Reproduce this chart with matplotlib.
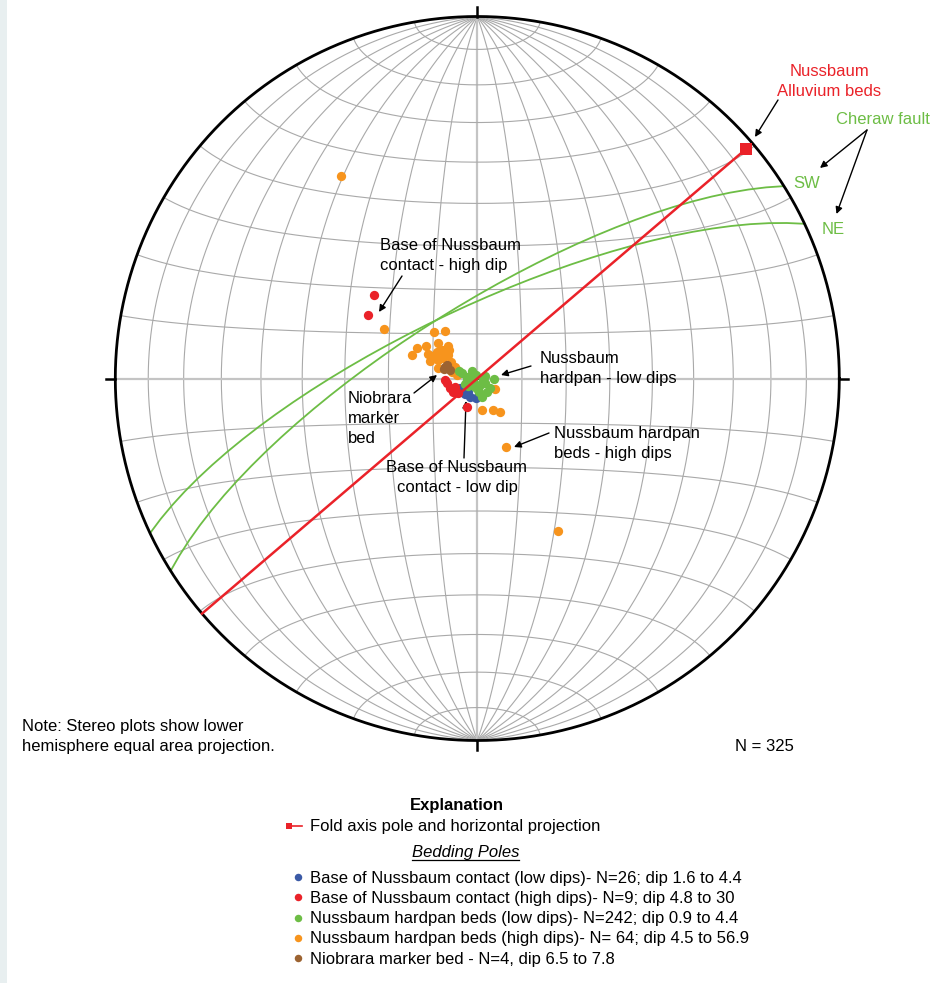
import numpy as np
import matplotlib
matplotlib.use("Agg")
import matplotlib.pyplot as plt
from matplotlib.transforms import Affine2D
from matplotlib.patches import Rectangle

plt.rcParams["font.family"] = ["Liberation Sans", "DejaVu Sans"]
plt.rcParams["font.size"] = 12

# ---------------------------------------------------------------------------
# Bedding attitudes (dip direction, dip) in degrees
# ---------------------------------------------------------------------------
base_low_dipdir = [47, 37, 22, 5, 35, 61]
base_low_dip = [4.3, 4.4, 4.4, 4.4, 3.7, 4.4]

base_high_dipdir = [129, 120, 81, 70, 61, 70, 20, 87, 53]
base_high_dip = [30.0, 28.5, 6.9, 6.5, 6.1, 5.3, 6.9, 7.3, 5.4]

hardpan_low_dipdir = [108, 100, 68, 66, 16, 337, 302, 272, 324, 346, 94, 160,
                      356, 307, 114, 145, 51, 275, 36, 353, 82, 252]
hardpan_low_dip = [3.7, 2.4, 1.5, 3.0, 1.9, 1.6, 2.0, 3.7, 3.6, 4.2, 1.6, 0.9,
                   2.6, 3.5, 4.4, 2.0, 2.7, 1.3, 1.3, 3.0, 2.3, 1.8]

hardpan_high_dipdir = [146, 118, 337, 332, 137, 146, 117, 132, 138, 110, 116,
                       123, 129, 110, 115, 123, 112, 302, 352, 333, 326, 100,
                       129, 116, 121, 118, 105, 122, 135, 104]
hardpan_high_dip = [56.9, 23.8, 16.7, 39.3, 14.4, 12.9, 15.3, 11.9, 9.9, 15.5,
                    12.4, 10.9, 8.4, 11.3, 9.7, 6.9, 5.0, 4.6, 7.1, 7.9, 9.0, 4.7,
                    10.2, 11.3, 8.9, 5.7, 9.1, 13.6, 9.0, 5.8]

niobrara_dipdir = [110, 108, 106, 114]
niobrara_dip = [7.7, 6.5, 7.8, 7.5]

# Fold axis (trend, plunge)
fold_axis_trend = 49.5
fold_axis_plunge = 2.5

# Cheraw fault planes (strike, dip; right-hand rule)
fault_labels = ["SW", "NE"]
fault_strike = [237.9, 244.7]
fault_dip = [74.0, 74.2]

legend_labels = [
    "Base of Nussbaum contact (low dips)- N=26; dip 1.6 to 4.4",
    "Base of Nussbaum contact (high dips)- N=9; dip 4.8 to 30",
    "Nussbaum hardpan beds (low dips)- N=242; dip 0.9 to 4.4",
    "Nussbaum hardpan beds (high dips)- N= 64; dip 4.5 to 56.9",
    "Niobrara marker bed - N=4, dip 6.5 to 7.8",
]

BLUE = "#3b5aa6"
RED = "#ea2229"
GREEN = "#6dbd45"
ORANGE = "#f7941d"
BROWN = "#9c6331"
GRID = "#a9a9a9"

# ---------------------------------------------------------------------------
# Lower-hemisphere equal-area projection helpers
# ---------------------------------------------------------------------------
def vec_xy(x, y, z):
    f = 1.0 / np.sqrt(1.0 + z)
    return x * f, y * f


def line_xy(trend, plunge):
    t = np.radians(np.asarray(trend, dtype=float))
    p = np.radians(np.asarray(plunge, dtype=float))
    return vec_xy(np.cos(p) * np.sin(t), np.cos(p) * np.cos(t), np.sin(p))


def pole_xy(dipdir, dip):
    return line_xy(np.asarray(dipdir, dtype=float) + 180.0,
                   90.0 - np.asarray(dip, dtype=float))


def plane_xy(strike, dip, n=37):
    t = np.radians(np.linspace(0, 180, n))
    s = np.radians(strike)
    dd = s + np.pi / 2
    d = np.radians(dip)
    sv = np.array([np.sin(s), np.cos(s), 0.0])
    dv = np.array([np.cos(d) * np.sin(dd), np.cos(d) * np.cos(dd), np.sin(d)])
    v = np.outer(np.cos(t), sv) + np.outer(np.sin(t), dv)
    return vec_xy(v[:, 0], v[:, 1], v[:, 2])


# ---------------------------------------------------------------------------
W, H = 947, 983
fig = plt.figure(figsize=(W / 100, H / 100), dpi=100)
fig.patches.append(Rectangle((0, 0), 7 / W, 1, transform=fig.transFigure,
                             facecolor="#e8eff0", edgecolor="none"))
ax = fig.add_axes([0, 0, 1, 1])
ax.set_xlim(0, W)
ax.set_ylim(H, 0)
ax.axis("off")

CX, CY, R = 477.3, 378.5, 362.0
net = Affine2D().scale(R, -R).translate(CX, CY) + ax.transData

# Schmidt net: great circles through N and S, small circles about the N-S axis
lat = np.radians(np.linspace(-90, 90, 361))
for L in range(-80, 90, 10):
    Lr = np.radians(L)
    gx, gy = vec_xy(np.cos(lat) * np.sin(Lr), np.sin(lat), np.cos(lat) * np.cos(Lr))
    lw, col = (1.6, "#c4c4c4") if L == 0 else (0.8, GRID)
    ax.plot(gx, gy, color=col, lw=lw, transform=net, zorder=1)
lon = np.radians(np.linspace(-90, 90, 361))
for phi in range(-80, 90, 10):
    pr = np.radians(phi)
    sx, sy = vec_xy(np.cos(pr) * np.sin(lon), np.full_like(lon, np.sin(pr)),
                    np.cos(pr) * np.cos(lon))
    lw, col = (1.6, "#c4c4c4") if phi == 0 else (0.8, GRID)
    ax.plot(sx, sy, color=col, lw=lw, transform=net, zorder=1)

# primitive circle and N/E/S/W ticks
th = np.linspace(0, 2 * np.pi, 721)
ax.plot(np.cos(th), np.sin(th), color="black", lw=2.0, transform=net, zorder=3)
for ang in (0, 90, 180, 270):
    a = np.radians(ang)
    ax.plot([np.sin(a), 1.025 * np.sin(a)], [np.cos(a), 1.025 * np.cos(a)],
            color="black", lw=1.8, transform=net, zorder=3)
ax.plot([0], [0], marker="+", ms=10, mew=1.5, color="black", transform=net, zorder=2)

# Cheraw fault great circles
for strike, dip in zip(fault_strike, fault_dip):
    fx, fy = plane_xy(strike, dip)
    ax.plot(fx, fy, color=GREEN, lw=1.3, transform=net, zorder=2)

# bedding poles
series = [
    (base_low_dipdir, base_low_dip, BLUE),
    (base_high_dipdir, base_high_dip, RED),
    (hardpan_high_dipdir, hardpan_high_dip, ORANGE),
    (niobrara_dipdir, niobrara_dip, BROWN),
    (hardpan_low_dipdir, hardpan_low_dip, GREEN),
]
for i, (dd, dp, col) in enumerate(series):
    px, py = pole_xy(dd, dp)
    ax.plot(px, py, "o", ms=6.7, mew=0, color=col, transform=net, zorder=4 + i * 0.1)

# fold axis pole and its horizontal projection
ax_x, ax_y = line_xy(fold_axis_trend, fold_axis_plunge)
op_x, op_y = line_xy(fold_axis_trend + 180, 0)
ax.plot([op_x, ax_x], [op_y, ax_y], color=RED, lw=1.8, transform=net, zorder=5)
ax.plot([ax_x], [ax_y], "s", ms=9, mew=0, color=RED, transform=net, zorder=5)

# ---------------------------------------------------------------------------
# Annotations (figure pixel layout)
# ---------------------------------------------------------------------------
arrow = dict(arrowstyle="-|>", color="black", lw=1.0, mutation_scale=10,
             shrinkA=0, shrinkB=0)


def lines(x, y0, texts, step=20, **kw):
    for k, s in enumerate(texts):
        ax.text(x, y0 + k * step, s, va="baseline", zorder=6, **kw)


lines(829.5, 76.5, ["Nussbaum", "Alluvium beds"], color=RED, ha="center")
ax.annotate("", xy=(755, 137), xytext=(778, 100), arrowprops=arrow)

ax.text(883, 124, "Cheraw fault", color=GREEN, ha="center", va="baseline")
ax.annotate("", xy=(820, 168), xytext=(867, 130), arrowprops=arrow)
ax.annotate("", xy=(836.5, 214), xytext=(867, 130), arrowprops=arrow)
ax.text(793, 188.5, fault_labels[0], color=GREEN, ha="left", va="baseline")
ax.text(822, 233.5, fault_labels[1], color=GREEN, ha="left", va="baseline")

lines(380, 250, ["Base of Nussbaum", "contact - high dip"], ha="left")
ax.annotate("", xy=(379, 312), xytext=(402, 276), arrowprops=arrow)

lines(540, 363, ["Nussbaum", "hardpan - low dips"], ha="left")
ax.annotate("", xy=(501, 375), xytext=(531, 366), arrowprops=arrow)

lines(348, 403, ["Niobrara", "marker", "bed"], ha="left")
ax.annotate("", xy=(437, 375), xytext=(414, 393), arrowprops=arrow)

lines(457, 472, ["Base of Nussbaum", "contact - low dip"], ha="center")
ax.annotate("", xy=(466, 401), xytext=(464, 458), arrowprops=arrow)

lines(554, 438, ["Nussbaum hardpan", "beds - high dips"], ha="left")
ax.annotate("", xy=(514, 447), xytext=(549, 433), arrowprops=arrow)

lines(22, 731, ["Note: Stereo plots show lower",
                "hemisphere equal area projection."], ha="left")
ax.text(735, 751, "N = 325", ha="left", va="baseline")

# Explanation block
ax.text(456.5, 810, "Explanation", ha="center", va="baseline", fontweight="bold")
ax.plot([289, 302], [826, 826], color=RED, lw=1.2)
ax.plot([289], [826], "s", ms=4, mew=0, color=RED)
ax.text(310, 831.5, "Fold axis pole and horizontal projection", ha="left", va="baseline")
bp = ax.text(465.5, 857, "Bedding Poles", ha="center", va="baseline", fontstyle="italic")
fig.canvas.draw()
bb = bp.get_window_extent().transformed(ax.transData.inverted())
ax.plot([bb.x0, bb.x1], [859.5, 859.5], color="black", lw=0.9)

colors = [BLUE, RED, GREEN, ORANGE, BROWN]
for k, (lab, col) in enumerate(zip(legend_labels, colors)):
    yc = 877 + k * 20.3
    ax.plot([298], [yc], "o", ms=5.4, mew=0, color=col)
    ax.text(309.5, yc + 5.5, lab, ha="left", va="baseline")

fig.savefig("out.png", dpi=100)
